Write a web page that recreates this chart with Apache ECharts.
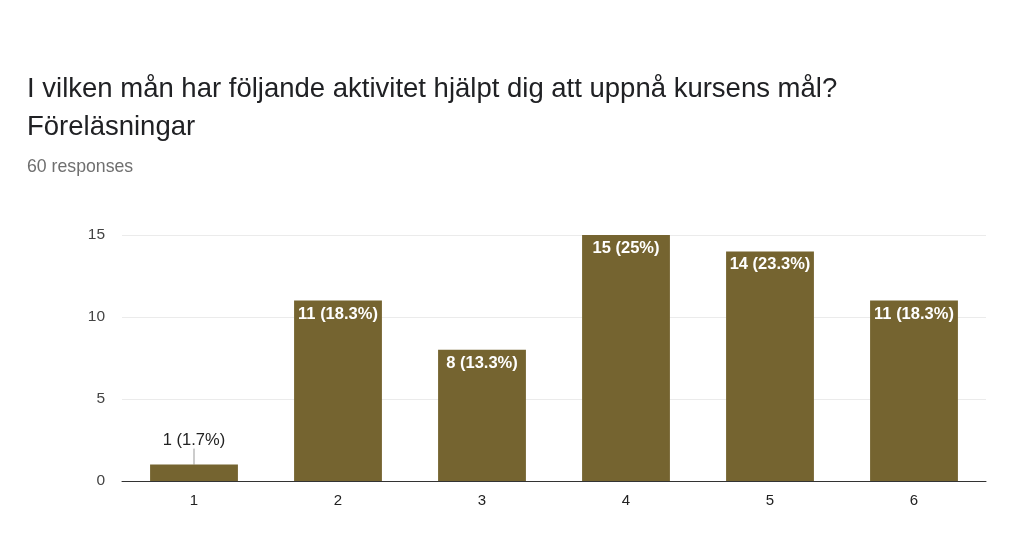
<!DOCTYPE html>
<html><head><meta charset="utf-8">
<script src="https://cdn.jsdelivr.net/npm/echarts@6/dist/echarts.min.js"></script>
<style>html,body{margin:0;padding:0;background:#fff}#c{width:1024px;height:542px}</style>
</head><body><div id="c"></div>
<script>
const categories = ['1','2','3','4','5','6'];
const counts = [1, 11, 8, 15, 14, 11];
const percents = ['1.7%', '18.3%', '13.3%', '25%', '23.3%', '18.3%'];
const yTicks = [0, 5, 10, 15];
const titleText = 'I vilken mån har följande aktivitet hjälpt dig att uppnå kursens mål?\nFöreläsningar';
const subText = '60 responses';

const chart = echarts.init(document.getElementById('c'));
const data = counts.map((v, i) => {
  const item = { value: v };
  if (v < 3) {
    item.label = { position: 'top', distance: 0, color: '#222', fontWeight: 'normal' };
    item.labelLine = { show: true, lineStyle: { color: '#999', width: 1 } };
  }
  return item;
});
chart.setOption({
  animation: false,
  title: [
    { text: titleText, left: 22, top: 65, textStyle: { fontFamily: 'Liberation Sans', fontSize: 27.5, fontWeight: 'normal', color: '#202124', lineHeight: 38 } },
    { text: subText, left: 22, top: 153, textStyle: { fontFamily: 'Liberation Sans', fontSize: 17.7, fontWeight: 'normal', color: '#6f6f6f' } }
  ],
  grid: { left: 122, right: 38, top: 235, bottom: 61 },
  xAxis: {
    type: 'category', data: categories,
    axisLine: { lineStyle: { color: '#333' } },
    axisTick: { show: false },
    axisLabel: { color: '#222', fontSize: 15, fontFamily: 'Liberation Sans', margin: 12 }
  },
  yAxis: {
    type: 'value', min: yTicks[0], max: yTicks[yTicks.length - 1], interval: 5,
    axisLine: { show: false }, axisTick: { show: false },
    axisLabel: { color: '#444', fontSize: 15.5, fontFamily: 'Liberation Sans', margin: 17 },
    splitLine: { lineStyle: { color: '#ebebeb' } }
  },
  series: [{
    type: 'bar', data: data, barWidth: '61%',
    itemStyle: { color: '#756430' },
    labelLayout: function (p) { return counts[p.dataIndex] < 3 ? { dy: -16 } : {}; },
    label: {
      show: true, position: 'insideTop', distance: 5,
      color: '#fff', fontSize: 16.5, fontFamily: 'Liberation Sans', fontWeight: 'bold',
      formatter: p => p.value + ' (' + percents[p.dataIndex] + ')'
    }
  }]
});
</script></body></html>
